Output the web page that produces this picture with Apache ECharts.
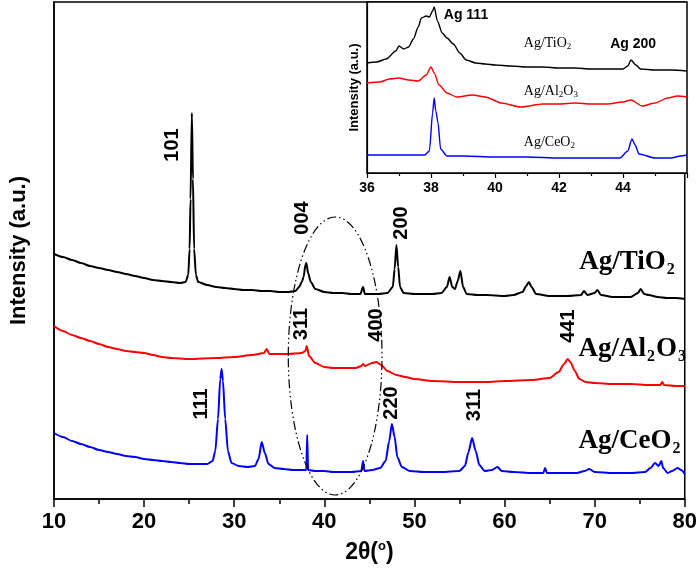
<!DOCTYPE html>
<html><head><meta charset="utf-8">
<script src="https://cdn.jsdelivr.net/npm/echarts@6/dist/echarts.min.js"></script>
<style>html,body{margin:0;padding:0;background:#fff}#c{width:700px;height:573px}</style>
</head><body><div id="c"></div>
<script>
// ---------- main pattern (2θ in degrees, intensity in a.u.) ----------
const tio2Main = [[10,245],[11,242],[12,239],[13,236],[14,233],[15,231],[16,229],[17,227],[18,225],[19,223],[20,221],[21,219],[22,218],[23,217],[24,216],[24.6,217],[24.9,224],[25.05,250],[25.15,300],[25.3,386],[25.42,320],[25.55,250],[25.75,224],[26,217],[27,214],[28,212],[29,211],[30,210],[31,209],[32,209],[33,208],[34,208],[35,207],[36,207],[36.8,208],[37.2,212],[37.5,217],[37.7,222],[37.9,234],[38.0,236],[38.2,226],[38.5,217],[39,210],[40,207],[41,206],[42,206],[43,205],[44.0,205],[44.3,212],[44.5,205],[45,205],[46,205],[47,206],[47.6,212],[47.8,230],[48.0,254],[48.2,232],[48.4,212],[48.8,206],[50,205],[51,205],[52,205],[53,206],[53.6,212],[53.9,222],[54.2,212],[54.5,210],[54.8,218],[55.1,228],[55.4,212],[55.8,205],[57,204],[58,204],[60,203],[61,204],[62.0,207],[62.4,213],[62.7,217],[63.0,212],[63.5,205],[65,203],[67,203],[68.5,204],[68.8,208],[69.2,204],[70.0,206],[70.3,209],[70.7,204],[72,202],[74,202],[74.8,206],[75.1,210],[75.5,205],[76.0,204],[77,202],[78,201],[79,201],[80,200]];
const al2o3Main = [[10,173],[11,168],[12,164],[13,161],[14,158],[15,155],[16,152],[17,150],[18,148],[19,147],[20,146],[21,144],[22,142],[23,141],[25,140],[28,141],[30,142],[32,144],[33.3,146],[33.6,150],[33.9,145],[35,145],[36,145],[37.5,146],[37.9,148],[38.05,153],[38.3,143],[39,136],[40,132],[41,131],[42,131],[43.5,131],[44.1,133],[44.3,135],[44.5,133],[45.3,136],[45.8,137],[46.3,134],[47,128],[48,124],[49,122],[50,120],[52,118],[55,117],[58,117],[60,118],[63,119],[65,121],[66,127],[66.6,135],[67.0,140],[67.3,137],[67.8,128],[68.3,120],[69,117],[70,116],[72,115],[74,115],[76,114],[77.3,114],[77.5,117],[77.7,114],[79,113],[80,113]];
const ceo2Main = [[10,66],[11,62],[12,58],[13,55],[14,52],[15,49],[16,47],[17,45],[18,43],[19,42],[20,40],[21,39],[22,38],[23,37],[24,36],[25,35],[26,35],[27,35],[27.6,38],[27.9,48],[28.2,80],[28.45,120],[28.6,130],[28.75,118],[29.0,80],[29.3,48],[29.7,36],[30.5,33],[31.5,32],[32.3,33],[32.7,40],[33.05,57],[33.4,46],[33.8,35],[34.5,31],[35.5,30],[36.5,29],[37.5,29],[38.0,29],[38.1,64],[38.2,29],[39,28],[40,28],[41,27],[42,27],[43,27],[44.1,28],[44.3,38],[44.45,28],[45.3,29],[46.2,31],[46.8,38],[47.2,58],[47.5,75],[47.8,62],[48.1,42],[48.6,32],[49.5,28],[51,27],[53,27],[55,28],[55.6,33],[56.0,47],[56.4,61],[56.8,48],[57.2,34],[57.8,28],[58.6,29],[59.2,32],[59.7,28],[61,27],[63,26],[64.3,26],[64.5,31],[64.7,26],[66,26],[68,26],[68.9,28],[69.4,30],[70,27],[72,26],[74,26],[75.6,27],[76.2,31],[76.7,36],[77.1,33],[77.4,38],[77.6,31],[78.1,26],[78.6,28],[79.2,31],[79.6,29],[80,25]];

// ---------- inset (Ag region) ----------
const tio2Inset = [[36.0,110],[36.3,111],[36.6,114],[36.9,122],[37.0,127],[37.15,124],[37.3,126],[37.45,134],[37.6,146],[37.7,155],[37.85,157],[37.95,156],[38.05,162],[38.1,166],[38.2,152],[38.35,140],[38.5,135],[38.7,129],[38.9,120],[39.1,113],[39.4,110],[39.7,109],[40.0,108],[40.5,107],[41.0,106],[41.5,106],[42.0,105],[42.5,105],[43.0,104],[43.5,104],[44.0,104],[44.15,107],[44.25,113],[44.4,108],[44.55,104],[45.0,103],[45.5,103],[46.0,102]];
const al2o3Inset = [[36.0,90],[36.4,91],[36.7,94],[37.0,95],[37.3,93],[37.6,92],[37.85,98],[38.0,106],[38.1,100],[38.25,88],[38.5,80],[38.8,76],[39.3,78],[39.7,76],[40.2,70],[40.8,66],[41.5,69],[42.0,69],[42.5,70],[43.0,69],[43.5,69],[44.0,71],[44.25,73],[44.6,67],[45.0,70],[45.4,75],[45.7,77],[46.0,76]];
const ceo2Inset = [[36,18],[37,18],[37.8,18],[37.95,22],[38.05,60],[38.1,75],[38.15,62],[38.22,50],[38.3,24],[38.5,17],[39,17],[40,16],[41,16],[42,15],[43,15],[43.9,15],[44.15,22],[44.28,34],[44.38,28],[44.5,19],[45,15],[45.5,15],[45.8,17],[46,18]];

// ---------- axes ----------
const mainXMin = 10, mainXMax = 80, mainXStep = 10;
const mainYMax = 497;
const insetXMin = 36, insetXMax = 46, insetXStep = 2;
const insetYMax = 171;

// ---------- annotations ----------
const peakText = ['101','004','200','311','400','441','111','220','311'];
const peakX    = [23.2, 37.6, 48.6, 37.5, 45.8, 67.1, 26.4, 47.4, 56.7];
const peakY    = [354, 281, 276, 175, 174, 173, 95, 96, 94];
const sampleRich = ['{a|Ag/TiO}{s|2}', '{a|Ag/Al}{s|2}{a|O}{s|3}', '{a|Ag/CeO}{s|2}'];
const sampleX = [68.3, 68.2, 68.2];
const sampleY = [237, 150, 58];
const insetSampleX = [40.9, 40.9, 40.9];
const insetSampleY = [130, 82, 31];
const insetPeakText = ['Ag 111', 'Ag 200'];
const insetPeakX = [38.4, 43.6];
const insetPeakY = [158, 129];
const ellipseCenter = [41.2, 143];
const ellipseHalf = [5.2, 139];

const SANS = '"Liberation Sans", Arial, sans-serif';
const SERIF = '"Liberation Serif", "Times New Roman", serif';

const chart = echarts.init(document.getElementById('c'));
function lineSeries(data, color, xi, w){
  return {type:'line', data:data, xAxisIndex:xi, yAxisIndex:xi, showSymbol:false, symbol:'none',
    smooth:0.25, smoothMonotone:'x',
    lineStyle:{color:color, width:w}, itemStyle:{color:color}, silent:true, z: 3};
}
chart.setOption({
  animation:false,
  backgroundColor:'#fff',
  grid:[
    {left:54, right:13, top:2, bottom:74, show:true, borderColor:'#000', borderWidth:1.5},
    {left:367, top:2, width:320, height:insetYMax, show:true, borderColor:'#000', borderWidth:1.5, backgroundColor:'#fff'}
  ],
  xAxis:[
    {gridIndex:0, type:'value', min:mainXMin, max:mainXMax, interval:mainXStep,
     name:'{a|2θ(}{b|o}{a|)}', nameLocation:'middle', nameGap:41,
     nameTextStyle:{rich:{a:{fontFamily:SANS, fontWeight:'bold', fontSize:23, color:'#000'}, b:{fontFamily:SANS, fontWeight:'bold', fontSize:13, color:'#000', padding:[0,0,12,0]}}},
     axisLine:{lineStyle:{color:'#000', width:1.5}},
     axisTick:{inside:false, length:8, lineStyle:{color:'#000', width:1.5}},
     minorTick:{show:true, splitNumber:2, length:5, lineStyle:{color:'#000', width:1.5}},
     splitLine:{show:false},
     axisLabel:{color:'#000', fontFamily:SANS, fontWeight:'bold', fontSize:22, margin:12}},
    {gridIndex:1, type:'value', min:insetXMin, max:insetXMax, interval:insetXStep,
     axisLine:{lineStyle:{color:'#000', width:1.2}},
     axisTick:{inside:false, length:5, lineStyle:{color:'#000', width:1.2}},
     minorTick:{show:true, splitNumber:2, length:3, lineStyle:{color:'#000', width:1.2}},
     splitLine:{show:false},
     axisLabel:{color:'#000', fontFamily:SANS, fontWeight:'bold', fontSize:14, margin:8, showMaxLabel:false}}
  ],
  yAxis:[
    {gridIndex:0, type:'value', min:0, max:mainYMax,
     name:'Intensity (a.u.)', nameLocation:'middle', nameGap:24,
     nameTextStyle:{color:'#000', fontFamily:SANS, fontWeight:'bold', fontSize:22},
     axisLine:{show:true, lineStyle:{color:'#000', width:1.5}}, axisTick:{show:false}, axisLabel:{show:false}, splitLine:{show:false}},
    {gridIndex:1, type:'value', min:0, max:insetYMax,
     name:'Intensity (a.u.)', nameLocation:'middle', nameGap:6,
     nameTextStyle:{color:'#000', fontFamily:SANS, fontWeight:'bold', fontSize:13},
     axisLine:{show:true, lineStyle:{color:'#000', width:1.2}}, axisTick:{show:false}, axisLabel:{show:false}, splitLine:{show:false}}
  ],
  series:[
    lineSeries(tio2Main, '#000000', 0, 2),
    lineSeries(al2o3Main, '#ff0000', 0, 2),
    lineSeries(ceo2Main, '#0000ff', 0, 2),
    lineSeries(tio2Inset, '#000000', 1, 1.4),
    lineSeries(al2o3Inset, '#ff0000', 1, 1.4),
    lineSeries(ceo2Inset, '#0000ff', 1, 1.4)
  ]
});

const g = [];
const toPx = (x, y, gi) => chart.convertToPixel({gridIndex:gi}, [x, y]);
peakText.forEach((t, i) => {
  const p = toPx(peakX[i], peakY[i], 0);
  g.push({type:'text', x:p[0], y:p[1], rotation:Math.PI/2, z:10,
    style:{text:t, fill:'#000', font:'bold 20px ' + SANS, align:'center', verticalAlign:'middle'}});
});
sampleRich.forEach((t, i) => {
  const p = toPx(sampleX[i], sampleY[i], 0);
  g.push({type:'text', x:p[0], y:p[1], z:10,
    style:{text:t, align:'left', verticalAlign:'middle',
      rich:{a:{fontFamily:SERIF, fontWeight:'bold', fontSize:27, fill:'#000', lineHeight:34},
            s:{fontFamily:SERIF, fontWeight:'bold', fontSize:16, fill:'#000', padding:[16,1,0,1], lineHeight:34}}}});
});
sampleRich.forEach((t, i) => {
  const p = toPx(insetSampleX[i], insetSampleY[i], 1);
  g.push({type:'text', x:p[0], y:p[1], z:10,
    style:{text:t, align:'left', verticalAlign:'middle',
      rich:{a:{fontFamily:SERIF, fontSize:14, fill:'#000', lineHeight:18},
            s:{fontFamily:SERIF, fontSize:9, fill:'#000', padding:[8,0,0,0], lineHeight:18}}}});
});
insetPeakText.forEach((t, i) => {
  const p = toPx(insetPeakX[i], insetPeakY[i], 1);
  g.push({type:'text', x:p[0], y:p[1], z:10,
    style:{text:t, fill:'#000', font:'bold 14px ' + SANS, align:'left', verticalAlign:'middle'}});
});
const c0 = toPx(ellipseCenter[0], ellipseCenter[1], 0);
const c1 = toPx(ellipseCenter[0] + ellipseHalf[0], ellipseCenter[1] + ellipseHalf[1], 0);
g.push({type:'ellipse', z:9, shape:{cx:c0[0], cy:c0[1], rx:Math.abs(c1[0]-c0[0]), ry:Math.abs(c1[1]-c0[1])},
  style:{fill:null, stroke:'#000', lineWidth:1.2, lineDash:[9,3,1.5,3,1.5,3]}});
chart.setOption({graphic:g});
</script>
</body></html>
